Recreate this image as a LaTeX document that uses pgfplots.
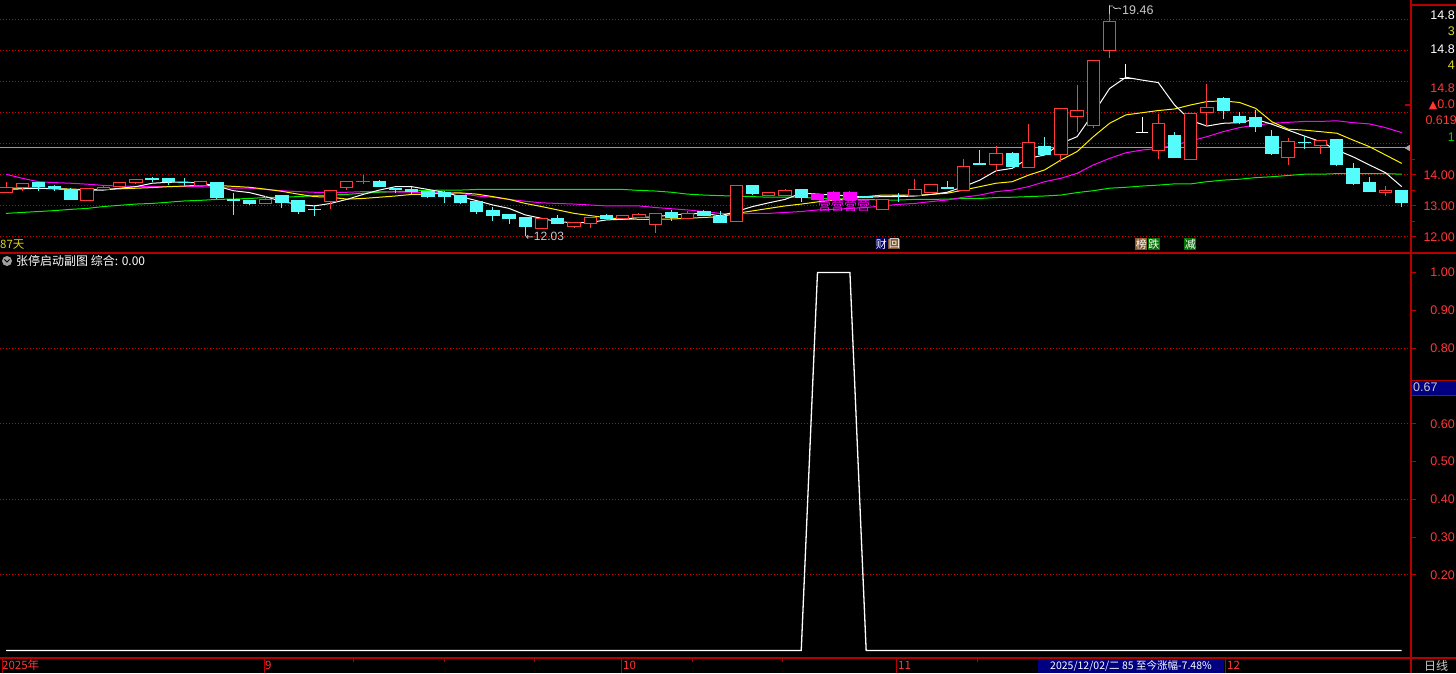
\documentclass[border=0pt]{standalone}
\usepackage{pgfplots}
\pgfplotsset{compat=1.18}
\usepackage{pgfplotstable}
\usepackage{fontspec}
\setmainfont{Liberation Sans}
\newfontfamily\cjk{Noto Sans CJK SC}
\newfontfamily\dejavu{DejaVu Sans}
\definecolor{candred}{RGB}{255,58,58}
\definecolor{candcyan}{RGB}{84,252,252}
\definecolor{gridred}{RGB}{215,0,0}
\definecolor{axred}{RGB}{180,0,0}
\definecolor{lblred}{RGB}{255,55,55}
\definecolor{magen}{RGB}{255,0,255}
\definecolor{greenma}{RGB}{0,240,0}
\definecolor{navybox}{RGB}{0,0,128}
\definecolor{lgray}{RGB}{200,200,200}

\pgfplotstableread{
i o h l c k
0 13.43 13.77 13.43 13.60 1
1 13.58 13.73 13.49 13.73 1
2 13.74 13.77 13.49 13.64 -1
3 13.64 13.67 13.49 13.56 -1
4 13.53 13.58 13.22 13.22 -1
5 13.17 13.56 13.17 13.56 1
6 13.53 13.64 13.53 13.60 1
7 13.62 13.76 13.60 13.76 1
8 13.75 13.86 13.71 13.86 1
9 13.87 13.92 13.77 13.85 -1
10 13.87 13.87 13.68 13.80 -1
11 13.77 13.89 13.64 13.75 -1
12 13.67 13.78 13.64 13.78 1
13 13.77 13.77 13.22 13.27 -1
14 13.20 13.43 12.71 13.18 -1
15 13.19 13.19 13.03 13.09 -1
16 13.07 13.32 13.07 13.22 1
17 13.34 13.34 12.94 13.10 -1
18 13.16 13.19 12.74 12.82 -1
19 12.90 13.03 12.69 12.88 -1
20 13.14 13.51 12.91 13.51 1
21 13.59 13.80 13.51 13.80 1
22 13.78 13.99 13.71 13.79 1
23 13.80 13.83 13.62 13.62 -1
24 13.55 13.57 13.41 13.52 -1
25 13.53 13.62 13.38 13.46 -1
26 13.45 13.46 13.27 13.30 -1
27 13.44 13.47 13.10 13.30 -1
28 13.34 13.34 13.07 13.10 -1
29 13.14 13.14 12.73 12.82 -1
30 12.85 12.98 12.51 12.68 -1
31 12.71 12.74 12.42 12.61 -1
32 12.64 12.64 12.03 12.33 -1
33 12.27 12.60 12.27 12.60 1
34 12.60 12.71 12.42 12.44 -1
35 12.33 12.46 12.30 12.46 1
36 12.42 12.63 12.30 12.63 1
37 12.68 12.74 12.61 12.61 -1
38 12.58 12.70 12.58 12.70 1
39 12.64 12.78 12.64 12.71 1
40 12.40 12.76 12.14 12.76 1
41 12.80 12.87 12.51 12.63 -1
42 12.60 12.85 12.60 12.76 1
43 12.82 12.87 12.67 12.68 -1
44 12.65 12.84 12.44 12.46 -1
45 12.49 13.67 12.49 13.67 1
46 13.67 13.67 13.36 13.39 -1
47 13.33 13.45 13.33 13.42 1
48 13.33 13.56 13.33 13.51 1
49 13.54 13.54 13.13 13.27 -1
50 13.37 13.40 13.22 13.22 2
51 13.43 13.47 13.22 13.22 2
52 13.43 13.47 13.22 13.22 2
53 13.31 13.33 13.25 13.28 -1
54 12.87 13.22 12.87 13.22 1
55 13.34 13.41 13.14 13.32 -1
56 13.33 13.87 13.33 13.54 1
57 13.43 13.70 13.43 13.70 1
58 13.60 13.80 13.54 13.55 -1
59 13.49 14.50 13.49 14.27 1
60 14.38 14.80 14.32 14.33 -1
61 14.34 14.93 14.13 14.68 1
62 14.70 14.74 14.26 14.26 -1
63 14.24 15.64 14.24 15.05 1
64 14.90 15.22 14.67 14.67 -1
65 14.65 16.14 14.42 16.14 1
66 15.87 16.88 15.39 16.08 1
67 15.58 17.69 15.52 17.69 1
68 18.00 19.46 17.77 18.94 1
69 17.10 17.57 17.10 17.10 0
70 15.37 15.87 15.37 15.37 0
71 14.79 15.97 14.52 15.65 1
72 15.28 15.39 14.55 14.55 -1
73 14.49 15.99 14.49 15.99 1
74 16.00 16.92 15.58 16.17 1
75 16.46 16.52 15.81 16.07 -1
76 15.89 16.01 15.63 15.69 -1
77 15.85 16.09 15.39 15.55 -1
78 15.22 15.44 14.65 14.68 -1
79 14.56 15.18 14.33 15.08 1
80 15.05 15.25 14.84 15.03 -1
81 14.95 15.11 14.68 15.11 1
82 15.14 15.15 14.29 14.32 -1
83 14.19 14.38 13.67 13.71 -1
84 13.74 13.93 13.46 13.46 -1
85 13.44 13.64 13.33 13.51 1
86 13.51 13.51 12.98 13.10 -1
}\ohlc

\pgfplotstableread{
i w y m g
0 13.53 13.57 14.02 12.76
1 13.55 13.57 13.89 12.79
2 13.57 13.57 13.78 12.82
3 13.55 13.56 13.75 12.85
4 13.53 13.54 13.73 12.89
5 13.51 13.53 13.70 12.92
6 13.51 13.53 13.66 12.98
7 13.57 13.55 13.64 13.02
8 13.62 13.57 13.63 13.06
9 13.73 13.59 13.63 13.08
10 13.76 13.62 13.62 13.12
11 13.77 13.64 13.62 13.16
12 13.73 13.67 13.62 13.18
13 13.64 13.66 13.60 13.21
14 13.49 13.63 13.57 13.22
15 13.43 13.60 13.57 13.24
16 13.30 13.54 13.53 13.27
17 13.14 13.47 13.49 13.28
18 13.05 13.38 13.46 13.30
19 13.00 13.30 13.44 13.33
20 13.08 13.28 13.44 13.35
21 13.21 13.22 13.44 13.37
22 13.37 13.24 13.46 13.41
23 13.51 13.28 13.46 13.44
24 13.62 13.32 13.45 13.46
25 13.62 13.37 13.44 13.48
26 13.53 13.38 13.43 13.50
27 13.44 13.41 13.43 13.51
28 13.30 13.42 13.41 13.51
29 13.17 13.38 13.32 13.53
30 13.03 13.30 13.28 13.53
31 12.92 13.21 13.21 13.53
32 12.71 13.08 13.15 13.53
33 12.60 12.98 13.10 13.53
34 12.49 12.87 13.08 13.53
35 12.46 12.76 13.06 13.53
36 12.47 12.69 13.03 13.53
37 12.55 12.62 13.00 13.53
38 12.57 12.58 13.00 13.53
39 12.63 12.57 13.00 13.50
40 12.65 12.57 12.95 13.48
41 12.71 12.58 12.91 13.44
42 12.74 12.60 12.87 13.38
43 12.76 12.63 12.82 13.35
44 12.68 12.65 12.76 13.33
45 12.82 12.76 12.74 13.32
46 12.98 12.84 12.76 13.30
47 13.10 12.92 12.76 13.28
48 13.21 13.00 12.79 13.28
49 13.41 13.06 12.82 13.28
50 13.38 13.13 12.87 13.24
51 13.35 13.19 12.89 13.23
52 13.32 13.24 12.92 13.22
53 13.28 13.30 12.95 13.21
54 13.30 13.35 13.00 13.19
55 13.30 13.35 13.05 13.19
56 13.32 13.34 13.08 13.21
57 13.37 13.37 13.14 13.21
58 13.44 13.41 13.19 13.22
59 13.62 13.51 13.28 13.24
60 13.83 13.62 13.35 13.24
61 14.13 13.73 13.46 13.27
62 14.21 13.78 13.51 13.28
63 14.53 13.99 13.62 13.30
64 14.64 14.16 13.78 13.32
65 15.01 14.48 13.89 13.35
66 15.23 14.75 14.05 13.43
67 15.98 15.23 14.32 13.49
68 16.78 15.66 14.53 13.57
69 17.14 15.93 14.71 13.60
70 17.05 16.00 14.80 13.64
71 16.97 16.07 14.85 13.67
72 16.25 16.12 14.96 13.71
73 15.75 16.25 15.09 13.71
74 15.57 16.36 15.23 13.78
75 15.66 16.38 15.39 13.83
76 15.68 16.33 15.52 13.86
77 15.79 16.14 15.60 13.91
78 15.63 15.71 15.66 13.94
79 15.44 15.47 15.69 13.98
80 15.25 15.44 15.72 14.02
81 15.07 15.39 15.72 14.02
82 14.80 15.34 15.74 14.04
83 14.58 15.12 15.68 14.04
84 14.32 14.91 15.64 14.04
85 14.07 14.64 15.52 14.04
86 13.62 14.37 15.36 14.02
}\ma

\pgfplotsset{
  panel/.style={
    scale only axis, width=1411pt, xmin=-0.37, xmax=86.57,
    axis x line=none, axis y line*=right,
    y axis line style={draw=axred, line width=1.6pt, -},
    tick align=outside, major tick length=5pt, minor tick length=4pt,
    ytick style={draw=axred, line width=1pt},
    ymajorgrids, grid style={gridred, line width=1pt, dash pattern=on 1pt off 2pt},
    /pgf/number format/assume math mode=true,
    /pgf/number format/.cd, fixed, fixed zerofill, precision=2, /pgfplots/.cd,
    yticklabel style={font=\fontsize{12.5}{13}\selectfont, text=lblred, anchor=east, inner sep=0pt, xshift=39pt},
    no markers,
  }
}

\begin{document}
\begin{tikzpicture}[x=1pt,y=1pt]
\path[use as bounding box] (0,0) rectangle (1456,673);
\fill[black] (0,0) rectangle (1456,673);

% ---------------- price panel ----------------
\begin{axis}[panel, at={(0pt,420pt)}, anchor=south west, height=253pt,
  ymin=11.485, ymax=19.628,
  ytick={12,13,14}, minor ytick={12.5,13.5,14.5},
  extra y ticks={15,16,17,18,19}, extra y tick labels={},
  extra y tick style={grid=major, major tick length=0pt},
]
\addplot[gray!80, line width=1pt] coordinates {(-0.37,14.865) (86.57,14.865)};
\addplot[gray!70, fill=gray!70] coordinates {(86.2,14.865) (86.57,14.98) (86.57,14.75)} --cycle;
\addplot[axred, line width=1.2pt] coordinates {(86.2,16.25) (86.57,16.25)};
\addplot[greenma, line width=1pt] table[x=i,y=g]{\ma};
\addplot[magen, line width=1pt] table[x=i,y=m]{\ma};
\addplot[yellow, line width=1pt] table[x=i,y=y]{\ma};
\addplot[white, line width=1pt] table[x=i,y=w]{\ma};
\pgfplotsinvokeforeach{0,...,86}{
  \pgfplotstablegetelem{#1}{o}\of\ohlc \let\O\pgfplotsretval
  \pgfplotstablegetelem{#1}{h}\of\ohlc \let\H\pgfplotsretval
  \pgfplotstablegetelem{#1}{l}\of\ohlc \let\L\pgfplotsretval
  \pgfplotstablegetelem{#1}{c}\of\ohlc \let\C\pgfplotsretval
  \pgfplotstablegetelem{#1}{k}\of\ohlc \let\K\pgfplotsretval
  \pgfmathsetmacro\xa{#1-0.38}
  \pgfmathsetmacro\xb{#1+0.38}
  \ifnum\K=1 \def\col{candred}\def\fil{black}\fi
  \ifnum\K=-1 \def\col{candcyan}\def\fil{candcyan}\fi
  \ifnum\K=0 \def\col{white}\def\fil{white}\fi
  \ifnum\K=2 \def\col{magen}\def\fil{magen}\fi
  \edef\tmp{\noexpand\addplot[\col, line width=1pt] coordinates {(#1,\L) (#1,\H)};
    \noexpand\addplot[draw=\col, fill=\fil, line width=1pt] coordinates {(\xa,\O) (\xb,\O) (\xb,\C) (\xa,\C)} --cycle;}
  \tmp
}
\node[anchor=west, text=lgray, font=\fontsize{12}{12}\selectfont, inner sep=0pt] at (axis cs:32,12.03) {{\dejavu\fontsize{10}{10}\selectfont ←}12.03};
\end{axis}

% ---------------- indicator panel ----------------
\begin{axis}[panel, at={(0pt,15pt)}, anchor=south west, height=405pt,
  ymin=-0.0198, ymax=1.0516,
  ytick={0.2,0.3,0.4,0.5,0.6,0.7,0.8,0.9,1.0},
  yticklabels={0.20,0.30,0.40,0.50,0.60,,0.80,0.90,1.00},
  ymajorgrids=false,
  extra y ticks={0.2,0.4,0.6,0.8}, extra y tick labels={},
  extra y tick style={ymajorgrids=true, major tick length=0pt},
]
\addplot[white, line width=1.3pt] coordinates {(0,0) (49,0) (50,1) (52,1) (53,0) (86,0)};
\end{axis}

% ---------------- frame lines ----------------
\draw[axred, line width=1.6pt] (0,420) -- (1456,420);
\draw[axred, line width=1.6pt] (0,15) -- (1456,15);
\draw[axred, line width=1.6pt] (1411,0) -- (1411,673);
\draw[axred, line width=1.6pt] (1411,668) -- (1456,668);

% high marker 19.46
\draw[lgray, line width=0.8pt] (1109.5,659) -- (1109.5,667) -- (1113,667) (1113,666) .. controls (1116,662) and (1118,667) .. (1121,664);
\node[anchor=west, text=lgray, font=\fontsize{12.5}{12.5}\selectfont, inner sep=0pt] at (1122,662.5) {19.46};

% right info texts
\begin{scope}[every node/.style={anchor=east, inner sep=0pt, font=\fontsize{12.5}{13}\selectfont}]
\node[text=white] at (1455,658) {14.8};
\node[text=yellow!85!black] at (1455,642) {3};
\node[text=white] at (1455,624) {14.8};
\node[text=yellow!85!black] at (1455,608) {4};
\node[text=lblred] at (1455,585) {14.8};
\node[text=lblred] at (1455,568) {{\dejavu\fontsize{11}{11}\selectfont ▲}0.0};
\node[text=lblred] at (1457,553) {0.619};
\node[text=green!80!black] at (1455,536) {1};
\end{scope}

% 0.67 box
\fill[navybox] (1412,278) rectangle (1456,293);
\draw[axred, line width=0.8pt] (1412,293) -- (1456,293) (1412,278) -- (1456,278);
\node[anchor=west, inner sep=0pt, text=lgray, font=\fontsize{12.5}{13}\selectfont] at (1413,285.5) {0.67};

% labels on the price panel
\node[anchor=west, inner sep=0pt, text=yellow!85!black, font=\cjk\fontsize{11.5}{12}\selectfont] at (0,428) {87天};
\node[anchor=west, inner sep=0.6pt, fill=blue!40!black, text=white, font=\cjk\fontsize{11}{11}\selectfont] at (875,429) {财};
\node[anchor=west, inner sep=0.6pt, fill=brown!70!black, text=white, font=\cjk\fontsize{11}{11}\selectfont] at (888,429) {回};
\node[anchor=west, inner sep=0.6pt, fill=brown!70!black, text=white, font=\cjk\fontsize{11}{11}\selectfont] at (1135,429) {榜};
\node[anchor=west, inner sep=0.6pt, fill=green!45!black, text=white, font=\cjk\fontsize{11}{11}\selectfont] at (1147.5,429) {跌};
\node[anchor=west, inner sep=0.6pt, fill=green!45!black, text=white, font=\cjk\fontsize{11}{11}\selectfont] at (1184,429) {减};
\node[anchor=west, inner sep=0pt, text=magen, font=\cjk\fontsize{13}{13}\selectfont] at (818,467) {营营营营};

% indicator title
\fill[gray!75] (7,412) circle (5);
\draw[black, line width=1pt] (4.5,413.5) -- (7,411) -- (9.5,413.5);
\node[anchor=west, inner sep=0pt, text=white, font=\cjk\fontsize{12}{12}\selectfont] at (16,412) {张停启动副图\ 综合: 0.00};

% bottom date strip
\begin{scope}[every node/.style={anchor=west, inner sep=0pt, text=lblred, font=\cjk\fontsize{11.5}{12}\selectfont}]
\node at (2,7.5) {2025年};
\node at (265,7.5) {9};
\node at (623,7.5) {10};
\node at (898,7.5) {11};
\node at (1227,7.5) {12};
\end{scope}
\foreach \xx in {2,264,621,896,1225} \draw[axred, line width=1pt] (\xx,0) -- (\xx,15);
\foreach \xx in {353,444,534,692,782,977} \draw[axred, line width=1pt] (\xx,15) -- (\xx,11);
\fill[navybox] (1038,0) rectangle (1224,14.5);
\node[anchor=center, inner sep=0pt, text=white, font=\cjk\fontsize{10.5}{11}\selectfont] at (1131,7.5) {2025/12/02/二 85 至今涨幅-7.48\%};
\node[anchor=west, inner sep=0pt, text=lgray, font=\cjk\fontsize{12}{12}\selectfont] at (1424,7.5) {日线};
\end{tikzpicture}
\end{document}
